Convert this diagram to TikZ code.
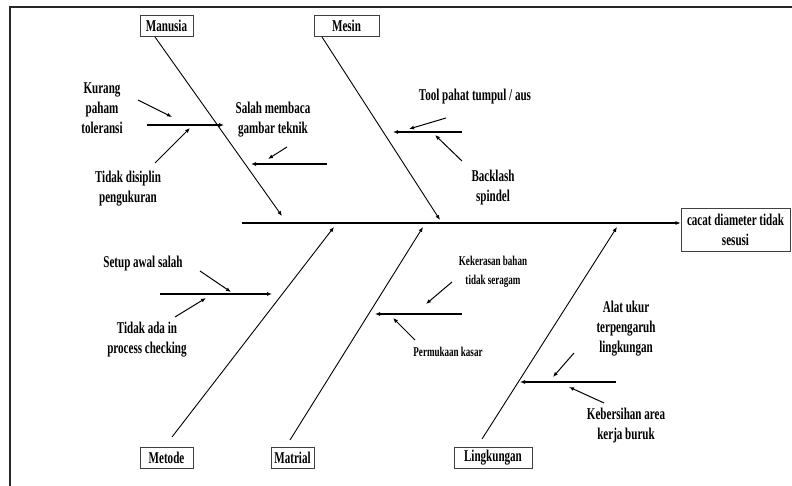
\documentclass[tikz,border=0pt]{standalone}
\usepackage{fontspec}
\setmainfont{Liberation Serif}[FakeStretch=0.67]
\usetikzlibrary{arrows.meta}
\begin{document}
\begin{tikzpicture}[x=1pt,y=-1pt,
  lbl/.style={font=\fontsize{16.5}{20}\selectfont\bfseries, align=center, inner sep=0pt},
  sml/.style={font=\fontsize{13.5}{19}\selectfont\bfseries, align=center, inner sep=0pt},
  catbox/.style={draw=black!75, line width=0.8pt, font=\fontsize{16.5}{20}\selectfont\bfseries, inner sep=0pt, minimum height=21pt},
  bone/.style={line width=0.9pt, -{Latex[length=5pt,width=4pt]}},
  sub/.style={line width=1.3pt, -{Latex[length=5pt,width=4pt]}},
  tick/.style={line width=1pt, -{Latex[length=5pt,width=4pt]}}]
\useasboundingbox (0,0) rectangle (792,486);
% frame
\draw[line width=2pt, black!85] (9.5,486) -- (9.5,7) -- (792,7);
% category boxes
\node[catbox, minimum width=53pt] (manusia) at (166.5,26) {Manusia};
\node[catbox, minimum width=65pt] (mesin) at (346.5,26) {Mesin};
\node[catbox, minimum width=53pt] (metode) at (166.5,457.5) {Metode};
\node[catbox, minimum width=43pt] (matrial) at (292.5,457.5) {Matrial};
\node[catbox, minimum width=78pt] (lingk) at (493,457.5) {Lingkungan};
\node[catbox, minimum width=109pt, minimum height=43pt, align=center] (result) at (735.5,229.5) {cacat diameter tidak\\sesusi};
% spine
\coordinate (sp) at (242,223);
\draw[line width=1.4pt, -{Latex[length=5pt,width=4pt]}] (sp) -- (sp -| result.west);
% main bones
\coordinate (b1s) at (155,37);   \coordinate (b1e) at (282,216);
\coordinate (b2s) at (322,37);   \coordinate (b2e) at (440,220);
\coordinate (b3s) at (172,437);  \coordinate (b3e) at (334,227);
\coordinate (b4s) at (290,440);  \coordinate (b4e) at (423,227);
\coordinate (b5s) at (482,439);  \coordinate (b5e) at (617,227);
\draw[bone] (b1s) -- (b1e);
\draw[bone] (b2s) -- (b2e);
\draw[bone] (b3s) -- (b3e);
\draw[bone] (b4s) -- (b4e);
\draw[bone] (b5s) -- (b5e);
% texts
\node[lbl] (kurang) at (102,108) {Kurang\\paham\\toleransi};
\node[lbl] (disiplin) at (128,189) {Tidak disiplin\\pengukuran};
\node[lbl] (salah) at (273,120) {Salah membaca\\gambar teknik};
\node[lbl] (tool) at (475,97) {Tool pahat tumpul / aus};
\node[lbl] (backlash) at (493,188) {Backlash\\spindel};
\node[lbl] (setup) at (143,264) {Setup awal salah};
\node[lbl] (tidakada) at (147,340) {Tidak ada in\\process checking};
\node[sml] (keker) at (493,272) {Kekerasan bahan\\tidak seragam};
\node[sml] (permuk) at (448,352) {Permukaan kasar};
\node[lbl] (alat) at (626,329) {Alat ukur\\terpengaruh\\lingkungan};
\node[lbl] (bersih) at (626,426) {Kebersihan area\\kerja buruk};
% sub-bones
\coordinate (s1s) at (147,125); \coordinate (s1e) at (224,125);
\coordinate (s2s) at (327,164); \coordinate (s2e) at (251,164);
\coordinate (s3s) at (462,132); \coordinate (s3e) at (393,132);
\coordinate (s4s) at (160,294); \coordinate (s4e) at (272,294);
\coordinate (s5s) at (462,314); \coordinate (s5e) at (375,314);
\coordinate (s6s) at (616,382); \coordinate (s6e) at (520,382);
\draw[sub] (s1s) -- (s1e);
\draw[sub] (s2s) -- (s2e);
\draw[sub] (s3s) -- (s3e);
\draw[sub] (s4s) -- (s4e);
\draw[sub] (s5s) -- (s5e);
\draw[sub] (s6s) -- (s6e);
% cause arrows
\coordinate (t1s) at (138,100); \coordinate (t1e) at (172,117);
\coordinate (t2s) at (155,163); \coordinate (t2e) at (190,128);
\coordinate (t3s) at (287,147); \coordinate (t3e) at (268,159);
\coordinate (t4s) at (446,118); \coordinate (t4e) at (409,129);
\coordinate (t5s) at (462,161); \coordinate (t5e) at (435,135);
\coordinate (t6s) at (200,271); \coordinate (t6e) at (231,292);
\coordinate (t7s) at (175,317); \coordinate (t7e) at (206,298);
\coordinate (t8s) at (452,282); \coordinate (t8e) at (426,304);
\coordinate (t9s) at (415,340); \coordinate (t9e) at (393,318);
\coordinate (t10s) at (574,353); \coordinate (t10e) at (553,377);
\coordinate (t11s) at (604,403); \coordinate (t11e) at (569,387);
\foreach \i in {1,...,11} {\draw[tick] (t\i s) -- (t\i e);}
\end{tikzpicture}
\end{document}
